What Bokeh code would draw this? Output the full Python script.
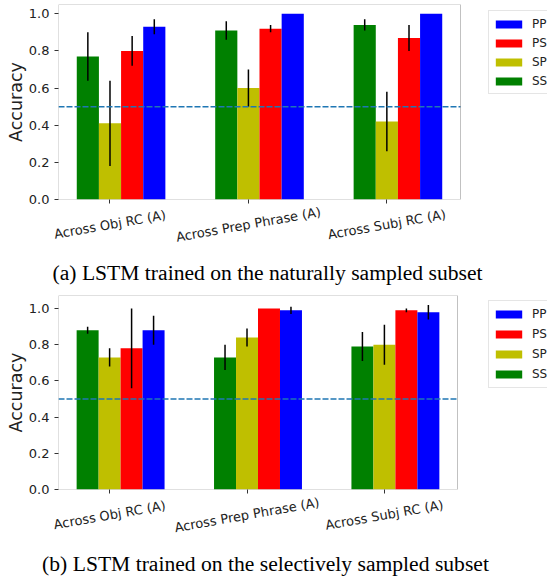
import numpy as np
from bokeh.plotting import figure
from bokeh.models import (Range1d, FixedTicker, PrintfTickFormatter, BoxAnnotation,
                          Legend, LegendItem)
from bokeh.core.properties import value
from bokeh.layouts import column
from bokeh.embed import file_html
from bokeh.resources import INLINE

categories = ["Across Obj RC (A)", "Across Prep Phrase (A)", "Across Subj RC (A)"]
series = ["SS", "SP", "PS", "PP"]
legend_order = ["PP", "PS", "SP", "SS"]
colors = {"SS": "#008000", "SP": "#bfbf00", "PS": "#ff0000", "PP": "#0000ff"}
offsets = {"SS": -1, "SP": 0, "PS": 1, "PP": 2}
yticks = [0.0, 0.2, 0.4, 0.6, 0.8, 1.0]
chance_level = 0.5

# (a) LSTM trained on the naturally sampled subset
nat_SS = [0.77, 0.91, 0.94]
nat_SS_err = [0.13, 0.05, 0.03]
nat_SP = [0.41, 0.60, 0.42]
nat_SP_err = [0.23, 0.10, 0.16]
nat_PS = [0.80, 0.92, 0.87]
nat_PS_err = [0.08, 0.02, 0.07]
nat_PP = [0.93, 1.00, 1.00]
nat_PP_err = [0.04, 0.00, 0.00]

# (b) LSTM trained on the selectively sampled subset
sel_SS = [0.88, 0.73, 0.79]
sel_SS_err = [0.02, 0.07, 0.08]
sel_SP = [0.73, 0.84, 0.80]
sel_SP_err = [0.05, 0.05, 0.11]
sel_PS = [0.78, 1.00, 0.99]
sel_PS_err = [0.22, 0.00, 0.01]
sel_PP = [0.88, 0.99, 0.98]
sel_PP_err = [0.08, 0.02, 0.04]

caption_a = "(a) LSTM trained on the naturally sampled subset"
caption_b = "(b) LSTM trained on the selectively sampled subset"

BAR_W = 0.16
XLIM = (-0.372, 2.532)
W = 547
LEFT = 58
OVERLAP = 10
SANS = "DejaVu Sans"
SERIF = "Liberation Serif"
INK = "#222222"
SPINE = "#333333"


def make_main(vals, errs, ymax, height, top, axes_w, legend_y, row_h):
    upp = (XLIM[1] - XLIM[0]) / axes_w
    x_end = XLIM[0] + (W - LEFT) * upp
    p = figure(width=W, height=height,
               x_range=Range1d(XLIM[0], x_end), y_range=Range1d(0, ymax),
               output_backend="svg", toolbar_location=None, frame_align=False,
               min_border_left=LEFT, min_border_right=0,
               min_border_top=top, min_border_bottom=8)
    p.xgrid.visible = False
    p.ygrid.visible = False
    p.outline_line_color = None

    xs = np.arange(len(categories))
    rends = {}
    for s in series:
        x = xs + offsets[s] * BAR_W
        v = np.array(vals[s])
        e = np.array(errs[s])
        rends[s] = p.vbar(x=x, top=v, width=BAR_W, fill_color=colors[s], line_color=None)
        p.segment(x0=x, y0=v - e, x1=x, y1=v + e, line_color="black", line_width=1.5)

    p.line(x=list(XLIM), y=[chance_level, chance_level], line_color="#1f77b4",
           line_dash="6 2", line_width=1.5)

    # the axes box
    p.add_layout(BoxAnnotation(left=XLIM[0], right=XLIM[1], bottom=0, top=ymax,
                               fill_alpha=0, line_color=SPINE, line_width=1))

    p.xaxis.ticker = FixedTicker(ticks=list(xs))
    p.xaxis.major_label_overrides = {int(i): "" for i in xs}
    p.xaxis.major_label_text_font_size = "0px"
    p.xaxis.major_label_standoff = 0
    p.yaxis.ticker = FixedTicker(ticks=yticks)
    p.yaxis.formatter = PrintfTickFormatter(format="%.1f")
    for ax in (p.xaxis, p.yaxis):
        ax.axis_line_color = None
        ax.major_tick_line_color = SPINE
        ax.major_tick_in = 0
        ax.major_tick_out = 4
        ax.minor_tick_line_color = None
    p.yaxis.major_label_text_font = SANS
    p.yaxis.major_label_text_font_size = "13px"
    p.yaxis.major_label_text_color = INK
    p.yaxis.major_label_standoff = 5
    p.yaxis.axis_label = "Accuracy"
    p.yaxis.axis_label_text_font = SANS
    p.yaxis.axis_label_text_font_size = "17.5px"
    p.yaxis.axis_label_text_font_style = "normal"
    p.yaxis.axis_label_text_color = INK
    p.yaxis.axis_label_standoff = 0

    legend = Legend(items=[LegendItem(label=s, renderers=[rends[s]]) for s in legend_order],
                    location=(430, legend_y), padding=3, spacing=0,
                    glyph_width=33, glyph_height=10, label_height=row_h,
                    label_standoff=7, label_text_font=SANS,
                    label_text_font_size="12px", label_text_color=INK,
                    border_line_color="#cccccc", border_line_width=1,
                    background_fill_alpha=0.8)
    p.add_layout(legend)
    return p


def make_labels(height, axes_w, tick_y, caption, cap_page_x, cap_y):
    # this strip overlaps the bottom of the plot above it by OVERLAP px (transparent)
    upp = (XLIM[1] - XLIM[0]) / axes_w
    start = XLIM[0] - LEFT * upp
    end = start + W * upp
    f = figure(width=W, height=height + OVERLAP,
               x_range=Range1d(start, end), y_range=Range1d(0, height + OVERLAP),
               x_axis_type=None, y_axis_type=None, min_border=0, frame_align=False,
               output_backend="svg", toolbar_location=None,
               margin=(-OVERLAP, 0, 0, 0))
    f.outline_line_color = None
    f.background_fill_color = None
    f.border_fill_color = None
    f.xgrid.visible = False
    f.ygrid.visible = False
    f.text(x=list(range(len(categories))), y=[tick_y] * len(categories), text=categories,
           angle=10, angle_units="deg", text_align="center", text_baseline="middle",
           text_font=value(SANS), text_font_size=value("13px"), text_color=INK)
    f.text(x=[start + cap_page_x * upp], y=[cap_y], text=[caption],
           text_align="center", text_baseline="middle",
           text_font=value(SERIF), text_font_size=value("21.6px"), text_color="black")
    return f


pa = make_main({"SS": nat_SS, "SP": nat_SP, "PS": nat_PS, "PP": nat_PP},
               {"SS": nat_SS_err, "SP": nat_SP_err, "PS": nat_PS_err, "PP": nat_PP_err},
               ymax=1.05, height=207, top=4, axes_w=402, legend_y=105, row_h=19)
la = make_labels(height=83, axes_w=402, tick_y=66, caption=caption_a,
                 cap_page_x=267, cap_y=18)
pb = make_main({"SS": sel_SS, "SP": sel_SP, "PS": sel_PS, "PP": sel_PP},
               {"SS": sel_SS_err, "SP": sel_SP_err, "PS": sel_PS_err, "PP": sel_PP_err},
               ymax=1.072, height=207, top=5, axes_w=399, legend_y=101, row_h=20)
lb = make_labels(height=82, axes_w=399, tick_y=64.5, caption=caption_b,
                 cap_page_x=265, cap_y=16)

layout = column(pa, la, pb, lb, spacing=0)

open("out.html", "w").write(file_html(layout, INLINE))
